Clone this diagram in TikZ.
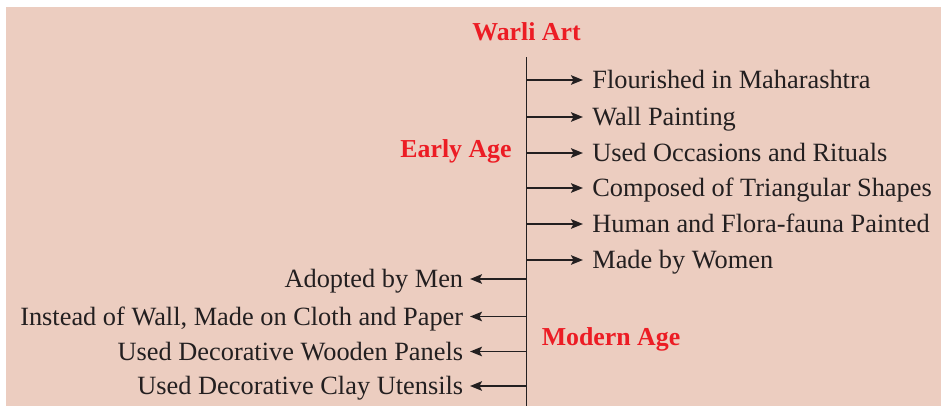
\documentclass[tikz,border=0pt]{standalone}
\usepackage{fontspec}
\setmainfont{Liberation Serif}
\usetikzlibrary{arrows.meta}

\definecolor{warlipink}{HTML}{ECCDC0}
\definecolor{warlired}{HTML}{EC1C24}
\definecolor{inkdark}{HTML}{231F20}

\tikzset{
  heading/.style={text=warlired, font=\fontsize{14.7}{18}\selectfont\bfseries, inner sep=0pt, anchor=base},
  item/.style={text=inkdark, font=\fontsize{15}{18}\selectfont, text height=9.9pt, text depth=0pt, inner ysep=0pt},
  branch/.style={draw=inkdark, line width=1.1pt, -{Stealth[length=2.4mm, width=1.9mm, inset=0.5mm]}}
}

\begin{document}
\begin{tikzpicture}[x=0.02cm, y=-0.02cm]
		\useasboundingbox (0,0) rectangle (941,406);
		\fill[warlipink] (6,7) rectangle (941,406);

		\node[heading] (warli) at (526.5,40) {Warli Art};
		\node[heading] (early) at (456,157) {Early Age};
		\node[heading] (modern) at (611,345) {Modern Age};

		\coordinate (spine) at (526.5,57);
		\coordinate (spineend) at (526.5,406);
		\draw[inkdark, line width=1.1pt] (spine) -- (spineend);

		% early age, to the right
		\node[item, anchor=west, inner xsep=0.18cm] (f1) at (583,80) {Flourished in Maharashtra};
		\node[item, anchor=west, inner xsep=0.18cm] (f2) at (583,117) {Wall Painting};
		\node[item, anchor=west, inner xsep=0.18cm] (f3) at (583,153) {Used Occasions and Rituals};
		\node[item, anchor=west, inner xsep=0.18cm] (f4) at (583,188) {Composed of Triangular Shapes};
		\node[item, anchor=west, inner xsep=0.18cm] (f5) at (583,224) {Human and Flora-fauna Painted};
		\node[item, anchor=west, inner xsep=0.18cm] (f6) at (583,260) {Made by Women};

		\foreach \n in {f1,f2,f3,f4,f5,f6}
			\draw[branch] (spine |- \n.west) -- (\n.west);

		% modern age, to the left
		\node[item, anchor=east, inner xsep=0.13cm] (m1) at (470,279) {Adopted by Men};
		\node[item, anchor=east, inner xsep=0.13cm] (m2) at (470,316.5) {Instead of Wall, Made on Cloth and Paper};
		\node[item, anchor=east, inner xsep=0.13cm] (m3) at (470,351.5) {Used Decorative Wooden Panels};
		\node[item, anchor=east, inner xsep=0.13cm] (m4) at (470,386) {Used Decorative Clay Utensils};

		\foreach \n in {m1,m2,m3,m4}
			\draw[branch] (spine |- \n.east) -- (\n.east);
	\end{tikzpicture}
\end{document}
